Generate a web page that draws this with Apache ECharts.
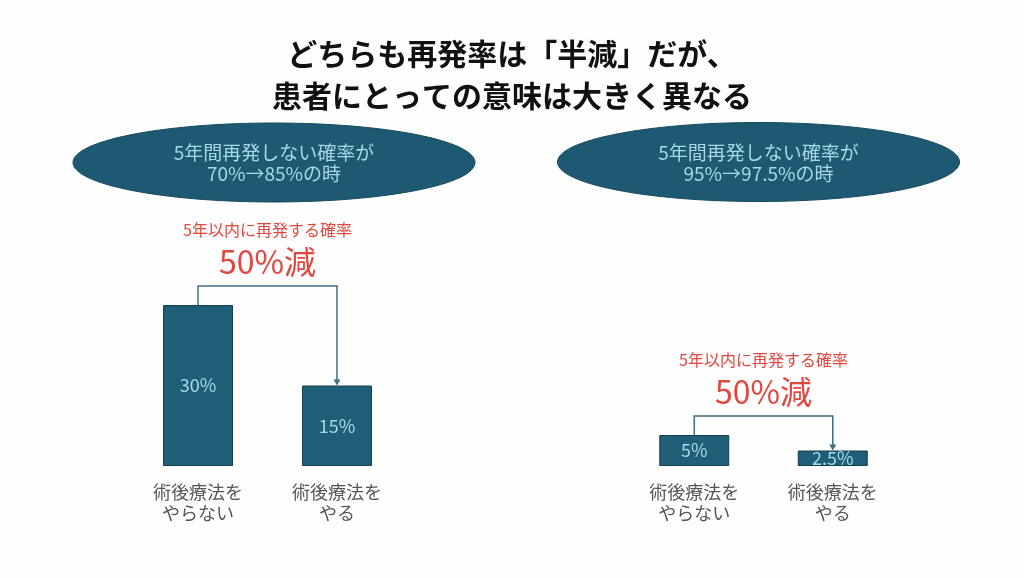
<!DOCTYPE html>
<html>
<head>
	<meta charset="utf-8" />
	<script src="https://cdn.jsdelivr.net/npm/echarts@6/dist/echarts.min.js"></script>
	<style>
		html, body { margin: 0; padding: 0; background: #fdfefd; }
	</style>
</head>
<body>
	<div id="main" style="width: 1024px;height:578px;"></div>

	<script type="text/javascript">
		// データ
		var categories = ['術後療法を\nやらない', '術後療法を\nやる'];
		var leftValues = [30, 15];
		var rightValues = [5, 2.5];
		var leftLabels = ['30%', '15%'];
		var rightLabels = ['5%', '2.5%'];
		var leftMax = 30;
		var rightMax = 5;
		var titleText = 'どちらも再発率は「半減」だが、\n患者にとっての意味は大きく異なる';
		var ovalTexts = ['5年間再発しない確率が\n70%→85%の時', '5年間再発しない確率が\n95%→97.5%の時'];
		var noteTop = '5年以内に再発する確率';
		var noteBig = '50%減';

		var FONT = '"Noto Sans CJK JP", sans-serif';
		var BAR = '#1e5e77';
		var LIGHT = '#a6d8ea';
		var RED = '#e2473f';

		var myChart = echarts.init(document.getElementById('main'));

		function barSeries(idx, values, labels) {
			return {
				type: 'bar',
				xAxisIndex: idx,
				yAxisIndex: idx,
				barWidth: 70,
				animation: false,
				data: values,
				itemStyle: { color: BAR, borderColor: '#173f50', borderWidth: 1 },
				label: {
					show: true,
					position: 'inside',
					fontFamily: FONT,
					fontSize: 18,
					color: LIGHT,
					formatter: function (p) { return labels[p.dataIndex]; }
				}
			};
		}

		function xAxis(idx) {
			return {
				type: 'category',
				gridIndex: idx,
				data: categories,
				axisLine: { show: false },
				axisTick: { show: false },
				axisLabel: {
					margin: 16,
					fontFamily: FONT,
					fontSize: 18,
					lineHeight: 21,
					color: '#555555'
				}
			};
		}

		function yAxis(idx, max) {
			return {
				type: 'value',
				gridIndex: idx,
				min: 0,
				max: max,
				show: false
			};
		}

		var option = {
			backgroundColor: '#fdfefd',
			title: {
				text: titleText,
				left: 507,
				top: 28,
				textAlign: 'center',
				textStyle: {
					fontFamily: FONT,
					fontSize: 30,
					fontWeight: 'bold',
					lineHeight: 42,
					color: '#111111'
				}
			},
			grid: [
				{ left: 128.5, width: 278, top: 305, height: 161 },
				{ left: 625, width: 277, top: 435, height: 31 }
			],
			xAxis: [xAxis(0), xAxis(1)],
			yAxis: [yAxis(0, leftMax), yAxis(1, rightMax)],
			series: [barSeries(0, leftValues, leftLabels), barSeries(1, rightValues, rightLabels)]
		};

		myChart.setOption(option);

		// 楕円と矢印はバーの座標から配置
		var ovals = [{ cx: 274, cy: 162.5 }, { cx: 758.5, cy: 162 }];
		var groups = [
			{ values: leftValues, idx: 0 },
			{ values: rightValues, idx: 1 }
		];

		var elements = [];
		ovals.forEach(function (o, i) {
			elements.push({
				type: 'ellipse',
				shape: { cx: o.cx, cy: o.cy, rx: 201, ry: 39.5 },
				style: { fill: '#1d5a71', stroke: '#174a5e', lineWidth: 1 }
			});
			elements.push({
				type: 'text',
				x: o.cx,
				y: o.cy + 1,
				style: {
					text: ovalTexts[i],
					fontFamily: FONT,
					fontSize: 19,
					lineHeight: 21,
					fill: LIGHT,
					align: 'center',
					verticalAlign: 'middle'
				}
			});
		});

		groups.forEach(function (g) {
			var p0 = myChart.convertToPixel({ xAxisIndex: g.idx, yAxisIndex: g.idx }, [0, g.values[0]]);
			var p1 = myChart.convertToPixel({ xAxisIndex: g.idx, yAxisIndex: g.idx }, [1, g.values[1]]);
			var topY = p0[1] - 19;
			elements.push({
				type: 'polyline',
				shape: { points: [[p0[0], p0[1]], [p0[0], topY], [p1[0], topY], [p1[0], p1[1] - 4]] },
				style: { stroke: '#3f6f80', lineWidth: 1.5, fill: null }
			});
			elements.push({
				type: 'polygon',
				shape: { points: [[p1[0] - 3.5, p1[1] - 6], [p1[0] + 3.5, p1[1] - 6], [p1[0], p1[1]]] },
				style: { fill: '#3f6f80' }
			});
			var mid = (p0[0] + p1[0]) / 2;
			elements.push({
				type: 'text',
				x: mid,
				y: topY - 56,
				style: {
					text: noteTop,
					fontFamily: FONT,
					fontSize: 16,
					fill: RED,
					align: 'center',
					verticalAlign: 'middle'
				}
			});
			elements.push({
				type: 'text',
				x: mid,
				y: topY - 24,
				style: {
					text: noteBig,
					fontFamily: FONT,
					fontSize: 32,
					fill: RED,
					align: 'center',
					verticalAlign: 'middle'
				}
			});
		});

		myChart.setOption({ graphic: { elements: elements } });
	</script>
</body>
</html>
